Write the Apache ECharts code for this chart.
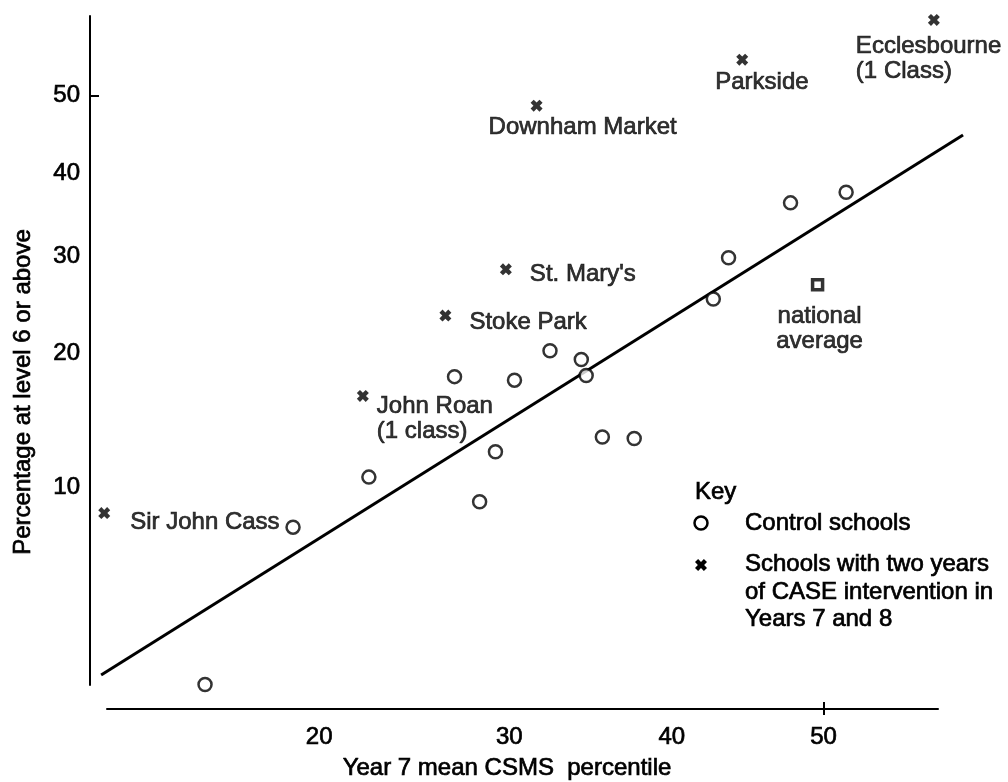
<!DOCTYPE html>
<html>
<head>
<meta charset="utf-8">
<script src="https://cdn.jsdelivr.net/npm/echarts@6/dist/echarts.min.js"></script>
<style>
  html, body { margin: 0; padding: 0; background: #fff; }
  #chart { width: 1008px; height: 782px; }
</style>
</head>
<body>
<div id="chart"></div>
<script>
// Control schools: Year 7 mean CSMS percentile and % reaching level 6 or above
const controlPercentile = [15.1, 18.8, 22.4, 26.9, 28.3, 29.2, 30.3, 32.4, 34.3, 34.6, 35.6, 37.6, 42.7, 43.7, 47.8, 51.5];
const controlLevel6     = [2.7, 7.9, 10.6, 17.9, 9.2, 12.2, 17.6, 20.2, 19.4, 18.0, 13.2, 13.1, 25.3, 29.8, 36.3, 37.6];

// Schools with two years of CASE intervention
const caseSchools    = ['Sir John Cass', 'John Roan\n(1 class)', 'Stoke Park', "St. Mary's", 'Downham Market', 'Parkside', 'Ecclesbourne\n(1 Class)'];
const casePercentile = [11.5, 22.1, 26.4, 29.8, 31.6, 44.6, 57.3];
const caseLevel6     = [8.6, 16.3, 23.6, 28.5, 48.7, 54.7, 59.8];

const nationalAverage = [49.6, 26.8];
const trendLine = [[11.4, 2.9], [59.2, 44.9]];

const xTickLabels = [20, 30, 40, 50];
const yTickLabels = [10, 20, 30, 40, 50];
const tickMarks = [50];
const xRange = [11.59, 57.57];
const yRange = [2.69, 60.3];

// label placement for the named schools (offset from the right edge of the mark, px)
const caseLabelOffsets = [[20, 9], [8, 23], [18, 7], [18, 5], [-54, 22], [-33, 23], [-84, 39]];

// normal-probability (probit) scale helpers
function probit(p) {
  const a = [-3.969683028665376e+01, 2.209460984245205e+02, -2.759285104469687e+02, 1.383577518672690e+02, -3.066479806614716e+01, 2.506628277459239e+00];
  const b = [-5.447609879822406e+01, 1.615858368580409e+02, -1.556989798598866e+02, 6.680131188771972e+01, -1.328068155288572e+01];
  const c = [-7.784894002430293e-03, -3.223964580411365e-01, -2.400758277161838e+00, -2.549732539343734e+00, 4.374664141464968e+00, 2.938163982698783e+00];
  const d = [7.784695709041462e-03, 3.224671290700398e-01, 2.445134137142996e+00, 3.754408661907416e+00];
  const pl = 0.02425, ph = 1 - pl;
  let q, r;
  if (p < pl) {
    q = Math.sqrt(-2 * Math.log(p));
    return (((((c[0]*q + c[1])*q + c[2])*q + c[3])*q + c[4])*q + c[5]) / ((((d[0]*q + d[1])*q + d[2])*q + d[3])*q + 1);
  }
  if (p > ph) {
    q = Math.sqrt(-2 * Math.log(1 - p));
    return -(((((c[0]*q + c[1])*q + c[2])*q + c[3])*q + c[4])*q + c[5]) / ((((d[0]*q + d[1])*q + d[2])*q + d[3])*q + 1);
  }
  q = p - 0.5; r = q * q;
  return (((((a[0]*r + a[1])*r + a[2])*r + a[3])*r + a[4])*r + a[5])*q / (((((b[0]*r + b[1])*r + b[2])*r + b[3])*r + b[4])*r + 1);
}
function normCdf(z) {
  const x = Math.abs(z) / Math.SQRT2;
  const t = 1 / (1 + 0.3275911 * x);
  const erf = 1 - (((((1.061405429*t - 1.453152027)*t + 1.421413741)*t - 0.284496736)*t + 0.254829592)*t) * Math.exp(-x * x);
  return z >= 0 ? (1 + erf) / 2 : (1 - erf) / 2;
}
const P = v => probit(v / 100);
const pctLabel = v => String(Math.round(normCdf(v) * 100));

const FONT = "'Liberation Sans', Arial, Helvetica, sans-serif";
const INK = '#000';
const INK_WEIGHT = 0.7; // slight outline to give the type a heavier, printed look

// bold "x" marker, drawn as a filled outline in a 10x10 box
const H = 2.6;
const crossPts = [[H,0],[5,5-H],[10-H,0],[10,H],[5+H,5],[10,10-H],[10-H,10],[5,5+H],[H,10],[0,10-H],[5-H,5],[0,H]];
const crossPath = 'path://M' + crossPts.map(p => p[0] + ',' + p[1]).join(' L') + ' Z';
function crossPoints(cx, cy, s) {
  const k = s / 10;
  return crossPts.map(p => [cx + (p[0] - 5) * k, cy + (p[1] - 5) * k]);
}

const chart = echarts.init(document.getElementById('chart'), null, { renderer: 'canvas' });

const labelText = { fontFamily: FONT, fontSize: 24, color: INK, textBorderColor: INK, textBorderWidth: INK_WEIGHT };
const plainText = (text, x, y, extra) => ({
  type: 'text', x: x, y: y,
  style: Object.assign({
    text: text, font: '24px ' + FONT, fill: INK, stroke: INK, lineWidth: INK_WEIGHT,
    align: 'left', verticalAlign: 'middle', textAlign: 'left', textVerticalAlign: 'middle'
  }, extra || {})
});

const yTitle = plainText('Percentage at level 6 or above', 23, 392, { align: 'center', textAlign: 'center' });
yTitle.rotation = Math.PI / 2;

chart.setOption({
  animation: false,
  backgroundColor: '#fff',
  grid: { left: 107, right: 70, top: 16, bottom: 97, outerBoundsMode: 'none' },
  xAxis: [
    {
      type: 'value',
      min: P(xRange[0]), max: P(xRange[1]),
      offset: 24,
      axisLine: { show: true, onZero: false, lineStyle: { color: INK, width: 2 } },
      axisTick: { show: false },
      splitLine: { show: false },
      axisLabel: {
        customValues: xTickLabels.map(P),
        formatter: pctLabel,
        margin: 16,
        ...labelText
      }
    },
    {
      type: 'value',
      position: 'bottom',
      min: P(xRange[0]), max: P(xRange[1]),
      offset: 30,
      axisLine: { show: false, onZero: false },
      axisLabel: { show: false },
      splitLine: { show: false },
      axisTick: { show: true, inside: true, length: 13, customValues: tickMarks.map(P), lineStyle: { color: INK, width: 2 } }
    }
  ],
  yAxis: {
    type: 'value',
    min: P(yRange[0]), max: P(yRange[1]),
    offset: 17,
    axisLine: { show: true, onZero: false, lineStyle: { color: INK, width: 2 } },
    axisTick: { show: true, inside: true, length: 9, customValues: tickMarks.map(P), lineStyle: { color: INK, width: 2 } },
    splitLine: { show: false },
    axisLabel: {
      customValues: yTickLabels.map(P),
      formatter: pctLabel,
      margin: 10,
      ...labelText
    }
  },
  series: [
    {
      name: 'Trend',
      type: 'custom',
      clip: false,
      data: [[P(trendLine[0][0]), P(trendLine[0][1]), P(trendLine[1][0]), P(trendLine[1][1])]],
      encode: { x: [0, 2], y: [1, 3] },
      renderItem: (params, api) => {
        const a = api.coord([api.value(0), api.value(1)]);
        const b = api.coord([api.value(2), api.value(3)]);
        return {
          type: 'line',
          shape: { x1: a[0], y1: a[1], x2: b[0], y2: b[1] },
          style: { stroke: INK, lineWidth: 3, fill: null }
        };
      },
      z: 2
    },
    {
      name: 'Control schools',
      type: 'scatter',
      data: controlPercentile.map((x, i) => [P(x), P(controlLevel6[i])]),
      symbol: 'circle',
      symbolSize: 13,
      clip: false,
      itemStyle: { color: '#fff', borderColor: INK, borderWidth: 2.5 },
      z: 3
    },
    {
      name: 'CASE schools',
      type: 'scatter',
      data: caseSchools.map((name, i) => ({
        name: name,
        value: [P(casePercentile[i]), P(caseLevel6[i])],
        label: {
          show: true,
          position: 'right',
          distance: 0,
          align: 'left',
          verticalAlign: 'middle',
          offset: caseLabelOffsets[i],
          lineHeight: 25,
          formatter: '{b}',
          ...labelText
        }
      })),
      symbol: crossPath,
      symbolSize: 12,
      clip: false,
      itemStyle: { color: INK },
      z: 3
    },
    {
      name: 'National average',
      type: 'scatter',
      data: [{ name: 'national\naverage', value: [P(nationalAverage[0]), P(nationalAverage[1])] }],
      symbol: 'rect',
      symbolSize: 10,
      clip: false,
      itemStyle: { color: '#fff', borderColor: INK, borderWidth: 3.5 },
      label: {
        show: true,
        position: 'bottom',
        distance: 0,
        align: 'center',
        offset: [2, 12],
        lineHeight: 25,
        formatter: '{b}',
        ...labelText
      },
      z: 3
    }
  ],
  graphic: [
    yTitle,
    plainText('Year 7 mean CSMS  percentile', 507, 768, { align: 'center', textAlign: 'center' }),
    // key
    plainText('Key', 695, 492),
    { type: 'circle', shape: { cx: 701, cy: 523, r: 6.5 }, style: { fill: '#fff', stroke: INK, lineWidth: 2.5 } },
    plainText('Control schools', 745, 523),
    { type: 'polygon', shape: { points: crossPoints(701, 565, 12) }, style: { fill: INK } },
    plainText('Schools with two years\nof CASE intervention in\nYears 7 and 8', 745, 551,
      { lineHeight: 27.5, verticalAlign: 'top', textVerticalAlign: 'top' })
  ]
});
</script>
</body>
</html>
